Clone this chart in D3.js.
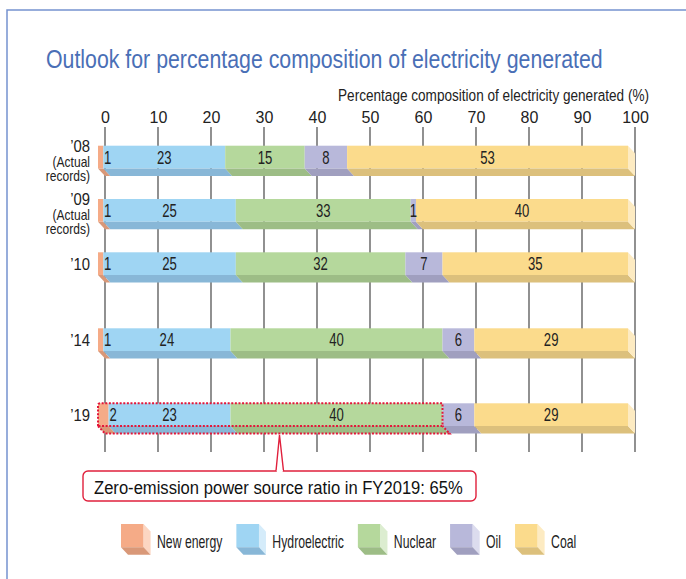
<!DOCTYPE html>
<html>
<head>
<meta charset="utf-8">
<script src="https://cdn.jsdelivr.net/npm/d3@7"></script>
<style>
  html, body { margin: 0; padding: 0; background: #fff; }
  svg { display: block; }
  text { font-family: "Liberation Sans", Arial, Helvetica, sans-serif; }
</style>
</head>
<body>
<svg id="chart" width="686" height="579"></svg>
<script>
// ---------- DATA ----------
const rowLabels = ["\u201908", "\u201909", "\u201910", "\u201914", "\u201919"];
const rowSubLabels = [["(Actual", "records)"], ["(Actual", "records)"], [], [], []];
const fiscalYears = [2008, 2009, 2010, 2014, 2019];
const seriesNames = ["New energy", "Hydroelectric", "Nuclear", "Oil", "Coal"];
const newEnergy = [1, 1, 1, 1, 2];
const hydroelectric = [23, 25, 25, 24, 23];
const nuclear = [15, 33, 32, 40, 40];
const oil = [8, 1, 7, 6, 6];
const coal = [53, 40, 35, 29, 29];
const tickValues = [0, 10, 20, 30, 40, 50, 60, 70, 80, 90, 100];
const chartTitle = "Outlook for percentage composition of electricity generated";
const axisTitle = "Percentage composition of electricity generated (%)";
const zeroEmissionSeries = 3;   // first three series: new energy, hydro, nuclear
const zeroEmissionYear = 2019;
const calloutText = "Zero-emission power source ratio in FY2019: 65%";

// colours: front, bottom (shade), side (light)
const frontColors = ["#f5ab87", "#9fd5f3", "#b5d89c", "#b8b8da", "#fbdb8c"];
const shadeColors = ["#d99878", "#88b7d7", "#9dbd86", "#a09fbf", "#dcc07c"];
const sideColors  = ["#fcd6c2", "#d5ecfa", "#dcedd0", "#dcdcee", "#fdebc2"];

// ---------- HELPERS ----------
const svg = d3.select("#chart");
// condensed text: drawn at origin, then placed with translate + horizontal scale
function ctext(parent, str, px, py, opts) {
  const t = parent.append("text")
    .attr("x", 0).attr("y", 0)
    .attr("font-size", opts.size)
    .attr("fill", opts.fill || "#222")
    .attr("text-anchor", opts.anchor || "start")
    .text(str);
  const w = t.node().getComputedTextLength();
  const s = opts.width ? opts.width / w : (opts.factor || 1);
  t.attr("transform", `translate(${px},${py}) scale(${s},1)`);
  return { node: t, width: w * s };
}

// ---------- BUILD ----------
const table = fiscalYears.map((fy, i) => ({
  fy, label: rowLabels[i], sub: rowSubLabels[i],
  "New energy": newEnergy[i], "Hydroelectric": hydroelectric[i],
  "Nuclear": nuclear[i], "Oil": oil[i], "Coal": coal[i]
}));
const stacked = d3.stack().keys(seriesNames)(table);

const W = 686, H = 579;
const dx = 7, dy = 7.5, faceH = 22.7;

const x = d3.scaleLinear().domain([0, 100]).range([105, 635]);
// piecewise-linear placement of rows (top of bar face)
const y = d3.scaleLinear().domain([2008, 2010, 2014, 2019]).range([145.7, 252.3, 328.3, 403.3]);
const color = d3.scaleOrdinal().domain(seriesNames).range(frontColors);
const shade = d3.scaleOrdinal().domain(seriesNames).range(shadeColors);
const side = d3.scaleOrdinal().domain(seriesNames).range(sideColors);

// frame (top + left)
svg.append("path")
  .attr("d", `M7,${H} V10 H${W}`)
  .attr("fill", "none").attr("stroke", "#7592cf").attr("stroke-width", 1.5);

// title
ctext(svg, chartTitle, 46, 67.5, { size: 25, fill: "#4a6fb6", width: 557 });

// axis title
ctext(svg, axisTitle, 649, 101, { size: 16.5, anchor: "end", width: 311 });

// axis with gridlines
const axis = d3.axisTop(x).tickValues(tickValues).tickSize(0).tickPadding(0).tickFormat(d3.format("d"));
const gAxis = svg.append("g").attr("transform", "translate(0,123)").call(axis);
gAxis.select(".domain").remove();
gAxis.selectAll("text").attr("font-size", 16).attr("fill", "#222").attr("dy", 0)
  .style("font-family", '"Liberation Sans", Arial, sans-serif');

svg.append("g").selectAll("line").data(tickValues).join("line")
  .attr("x1", d => x(d)).attr("x2", d => x(d))
  .attr("y1", 127).attr("y2", 452)
  .attr("stroke", "#555").attr("stroke-width", 1.3);

// bars
const gBars = svg.append("g");
stacked.forEach((layer, k) => {
  const key = layer.key;
  const g = gBars.append("g");
  layer.forEach((seg, i) => {
    const top = y(table[i].fy);
    const x0 = x(seg[0]) - dx, x1 = x(seg[1]) - dx;
    const bot = top + faceH;
    g.append("rect").attr("x", x0).attr("y", top).attr("width", x1 - x0).attr("height", faceH)
      .attr("fill", color(key));
    g.append("path")
      .attr("d", `M${x0},${bot} L${x1},${bot} L${x1 + dx},${bot + dy} L${x0 + dx},${bot + dy} Z`)
      .attr("fill", shade(key));
    if (k === seriesNames.length - 1) {
      g.append("path")
        .attr("d", `M${x1},${top} L${x1 + dx},${top + dy} L${x1 + dx},${bot + dy} L${x1},${bot} Z`)
        .attr("fill", side(key));
    }
  });
});

// value labels
const gVals = svg.append("g");
stacked.forEach((layer, k) => {
  layer.forEach((seg, i) => {
    const top = y(table[i].fy);
    const v = seg[1] - seg[0];
    const x0 = x(seg[0]) - dx, x1 = x(seg[1]) - dx;
    const ty = top + faceH / 2 + 6.5;
    if (k === 0) ctext(gVals, String(v), x1 + 0.8, ty, { size: 17.5, anchor: "start", factor: 0.75 });
    else ctext(gVals, String(v), (x0 + x1) / 2, ty, { size: 17.5, anchor: "middle", factor: 0.75 });
  });
});

// row labels
const gRows = svg.append("g");
table.forEach(d => {
  const c = y(d.fy) + faceH / 2;
  const hasSub = d.sub.length > 0;
  ctext(gRows, d.label, 90, hasSub ? c - 5 : c + 6.5, { size: 16.5, anchor: "end", factor: 0.9 });
  d.sub.forEach((s, j) => {
    ctext(gRows, s, 90, c - 5 + 14.5 * (j + 1), { size: 14, anchor: "end", factor: 0.86 });
  });
});

// zero-emission dotted outline
const zRow = table.find(d => d.fy === zeroEmissionYear);
const zTop = y(zRow.fy);
const zEnd = stacked[zeroEmissionSeries - 1][fiscalYears.indexOf(zeroEmissionYear)][1];
const zx0 = x(0) - dx, zx1 = x(zEnd) - dx, zBot = zTop + faceH;
const red = "#e3173a";
svg.append("path")
  .attr("d", `M${zx0},${zBot} L${zx0},${zTop + 2} Q${zx0},${zTop} ${zx0 + 2},${zTop} L${zx1},${zTop} L${zx1},${zBot} Z`)
  .attr("fill", "none").attr("stroke", red).attr("stroke-width", 2).attr("stroke-dasharray", "2,1.6");
svg.append("path")
  .attr("d", `M${zx0},${zBot} L${zx0 + dx},${zBot + dy} L${zx1 + dx},${zBot + dy} L${zx1},${zBot}`)
  .attr("fill", "none").attr("stroke", red).attr("stroke-width", 2).attr("stroke-dasharray", "2,1.6");

// callout
const cx0 = 83, cy0 = 471, cw = 393, ch = 30;
const px = 280;
svg.append("rect").attr("x", cx0).attr("y", cy0).attr("width", cw).attr("height", ch).attr("rx", 5)
  .attr("fill", "#fff").attr("stroke", "#e0203c").attr("stroke-width", 1.4);
svg.append("path")
  .attr("d", `M${px - 4},${cy0} L${px - 0.5},${zBot + dy + 1.5} L${px + 3.5},${cy0}`)
  .attr("fill", "#fff").attr("stroke", "#e0203c").attr("stroke-width", 1.4);
svg.append("line").attr("x1", px - 3.2).attr("x2", px + 2.7).attr("y1", cy0).attr("y2", cy0)
  .attr("stroke", "#fff").attr("stroke-width", 2);
ctext(svg, calloutText, 94, 493.5, { size: 18.5, fill: "#111", width: 369 });

// legend
let lx = 121;
const ly = 524, sw = 22.6, sh = 23.3;
seriesNames.forEach((name) => {
  const g = svg.append("g");
  g.append("rect").attr("x", lx).attr("y", ly).attr("width", sw).attr("height", sh).attr("fill", color(name));
  g.append("path").attr("d", `M${lx + sw},${ly} L${lx + sw + dx},${ly + dy} L${lx + sw + dx},${ly + sh + dy} L${lx + sw},${ly + sh} Z`)
    .attr("fill", side(name));
  g.append("path").attr("d", `M${lx},${ly + sh} L${lx + sw},${ly + sh} L${lx + sw + dx},${ly + sh + dy} L${lx + dx},${ly + sh + dy} Z`)
    .attr("fill", shade(name));
  const r = ctext(g, name, lx + 36, 547.5, { size: 17.5, factor: 0.7 });
  lx = lx + 36 + r.width + 14;
});
</script>
</body>
</html>
